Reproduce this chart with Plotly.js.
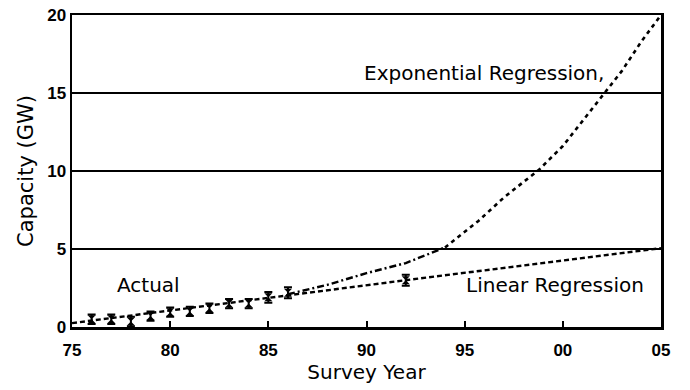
<!DOCTYPE html>
<html>
<head>
<meta charset="utf-8">
<script src="https://cdn.plot.ly/plotly-3.0.1.min.js"></script>
<style>html,body{margin:0;padding:0;background:#fff;}#chart{width:690px;height:390px;}</style>
</head>
<body>
<div id="chart"></div>
<script>
// Actual survey values (GW)
const actualYears = [1976, 1977, 1978, 1979, 1980, 1981, 1982, 1983, 1984, 1985, 1986, 1992];
const actualValues = [0.5, 0.5, 0.35, 0.7, 0.95, 1.0, 1.2, 1.5, 1.5, 1.9, 2.2, 3.0];
const actualErr = [0.3, 0.3, 0.3, 0.3, 0.3, 0.3, 0.3, 0.3, 0.3, 0.35, 0.35, 0.35];

// Linear regression
const linYears = [1975, 1986, 1992, 2005];
const linValues = [0.25, 2.05, 3.0, 5.05];

// Exponential regression (dash-dot part, then dashed part)
const expYearsA = [1986, 1988, 1990, 1992, 1993, 1994];
const expValuesA = [2.1, 2.7, 3.45, 4.1, 4.6, 5.1];
const expYearsB = [1994, 1995.7, 1997, 1998.8, 2000, 2001.7, 2003, 2004, 2005];
const expValuesB = [5.1, 6.8, 8.3, 10.1, 11.6, 14.3, 16.4, 18.3, 20.0];

// Tick labels
const xTickVals = [1975, 1980, 1985, 1990, 1995, 2000, 2005];
const xTickText = ['75', '80', '85', '90', '95', '00', '05'];
const yTickVals = [0, 5, 10, 15, 20];
const yTickText = ['0', '5', '10', '15', '20'];

const font = 'DejaVu Sans, Arial, sans-serif';
const tickFontFamily = 'Liberation Sans, Arial, sans-serif';

const traces = [
  {x: linYears, y: linValues, mode: 'lines', line: {color: '#000', width: 2.4, dash: '5px,3px'}, hoverinfo: 'skip'},
  {x: expYearsA, y: expValuesA, mode: 'lines', line: {color: '#000', width: 2.4, dash: '7px,3px,2px,3px'}, hoverinfo: 'skip'},
  {x: expYearsB, y: expValuesB, mode: 'lines', line: {color: '#000', width: 2.6, dash: '4px,4px'}, hoverinfo: 'skip'},
  {x: actualYears, y: actualValues, mode: 'markers',
   marker: {symbol: 'hourglass', size: 8, color: '#000'},
   error_y: {type: 'data', array: actualErr, visible: true, color: '#000', thickness: 2, width: 4}}
];

const layout = {
  width: 690, height: 390,
  margin: {l: 72, r: 29, t: 15, b: 63},
  paper_bgcolor: '#fff', plot_bgcolor: '#fff',
  showlegend: false,
  font: {family: font, color: '#000'},
  xaxis: {
    range: [1975, 2005], tickmode: 'array', tickvals: xTickVals, ticktext: xTickText,
    showgrid: false, zeroline: false, showline: true, linecolor: '#000', linewidth: 2.5, mirror: true,
    ticks: 'inside', ticklen: 6, tickwidth: 2, tickcolor: '#000', ticklabelstandoff: 6,
    tickfont: {family: tickFontFamily, size: 17, color: '#000', weight: 'bold'},
    title: {text: 'Survey Year', font: {family: font, size: 20, color: '#000'}, standoff: 4}
  },
  yaxis: {
    range: [0, 20], tickmode: 'array', tickvals: yTickVals, ticktext: yTickText,
    showgrid: true, gridcolor: '#000', gridwidth: 2, zeroline: false,
    showline: true, linecolor: '#000', linewidth: 2.5, mirror: true, ticks: '',
    tickfont: {family: tickFontFamily, size: 17, color: '#000', weight: 'bold'},
    title: {text: 'Capacity (GW)', font: {family: font, size: 21, color: '#000'}, standoff: 8}
  },
  annotations: [
    {x: 1978.9, y: 2.7, xref: 'x', yref: 'y', text: 'Actual', showarrow: false, font: {family: font, size: 20, color: '#000'}},
    {x: 1999.6, y: 2.7, xref: 'x', yref: 'y', text: 'Linear Regression', showarrow: false, font: {family: font, size: 20, color: '#000'}},
    {x: 1996.0, y: 16.3, xref: 'x', yref: 'y', text: 'Exponential Regression,', showarrow: false, font: {family: font, size: 20, color: '#000'}}
  ]
};

Plotly.newPlot('chart', traces, layout, {displayModeBar: false, staticPlot: true});
</script>
</body>
</html>
